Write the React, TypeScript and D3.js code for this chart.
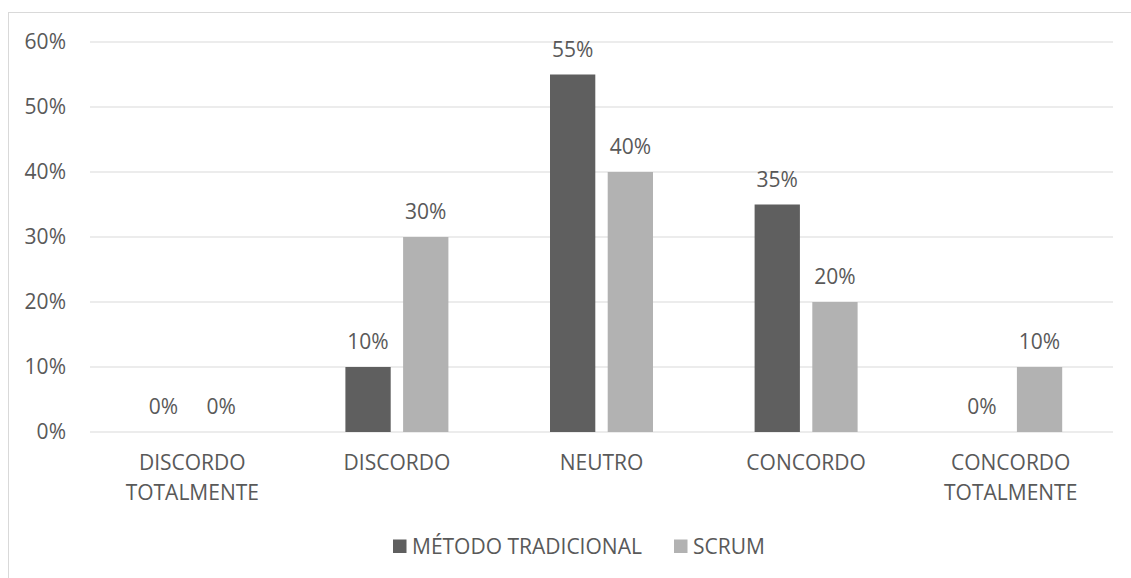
import React from "react";
import * as d3 from "d3";

const categories = [
  ["DISCORDO", "TOTALMENTE"],
  ["DISCORDO"],
  ["NEUTRO"],
  ["CONCORDO"],
  ["CONCORDO", "TOTALMENTE"],
];
const seriesNames = ["MÉTODO TRADICIONAL", "SCRUM"];
const tradicional = [0, 10, 55, 35, 0];
const scrum = [0, 30, 40, 20, 10];
const yTicks = [0, 10, 20, 30, 40, 50, 60];

const colors = ["#5f5f5f", "#b2b2b2"];
const textColor = "#595959";
const gridColor = "#d9d9d9";
const font = "'Open Sans', 'Noto Sans', sans-serif";
const fs = 21;

export default function App() {
  const W = 1131;
  const H = 578;
  const left = 90;
  const right = 1113;
  const top = 42;
  const bottom = 432;

  const keys = categories.map((c) => c.join(" "));
  const x0 = d3.scaleBand<string>().domain(keys).range([left, right]).padding(0);
  const groupW = 103;
  const x1 = d3
    .scaleBand<number>()
    .domain([0, 1])
    .range([0, groupW])
    .paddingInner(0.215)
    .paddingOuter(0);
  const y = d3.scaleLinear().domain([0, 60]).range([bottom, top]);
  const series = [tradicional, scrum];

  return (
    <svg
      width={W}
      height={H}
      style={{ position: "absolute", left: 0, top: 0, display: "block" }}
      fontFamily={font}
    >
      <rect x={0} y={0} width={W} height={H} fill="#fff" />
      <rect
        x={8.5}
        y={12.5}
        width={W + 10}
        height={H + 10}
        fill="none"
        stroke={gridColor}
        strokeWidth={1}
      />
      {yTicks.map((t) => (
        <g key={t}>
          <line x1={left} x2={right} y1={y(t)} y2={y(t)} stroke={gridColor} strokeWidth={1} />
          <text
            x={66}
            y={y(t)}
            dy="0.35em"
            textAnchor="end"
            fontSize={fs}
            fill={textColor}
          >
            {t}%
          </text>
        </g>
      ))}
      {keys.map((k, i) => {
        const bx = x0(k)! + (x0.bandwidth() - groupW) / 2;
        return (
          <g key={k}>
            {series.map((s, j) => {
              const v = s[i];
              const xx = bx + x1(j)!;
              const w = x1.bandwidth();
              return (
                <g key={j}>
                  {v > 0 && (
                    <rect x={xx} y={y(v)} width={w} height={y(0) - y(v)} fill={colors[j]} />
                  )}
                  <text
                    x={xx + w / 2}
                    y={y(v) - 18}
                    textAnchor="middle"
                    fontSize={fs}
                    fill={textColor}
                  >
                    {v}%
                  </text>
                </g>
              );
            })}
            <text
              x={x0(k)! + x0.bandwidth() / 2}
              y={470}
              textAnchor="middle"
              fontSize={fs}
              fill={textColor}
            >
              {categories[i].map((line, li) => (
                <tspan key={li} x={x0(k)! + x0.bandwidth() / 2} dy={li === 0 ? 0 : 29.5}>
                  {line}
                </tspan>
              ))}
            </text>
          </g>
        );
      })}
      <g>
        <rect x={393} y={539.5} width={13.5} height={13.5} fill={colors[0]} />
        <text x={412} y={553.5} fontSize={fs} fill={textColor}>
          {seriesNames[0]}
        </text>
        <rect x={674} y={539.5} width={13.5} height={13.5} fill={colors[1]} />
        <text x={693} y={553.5} fontSize={fs} fill={textColor}>
          {seriesNames[1]}
        </text>
      </g>
    </svg>
  );
}
